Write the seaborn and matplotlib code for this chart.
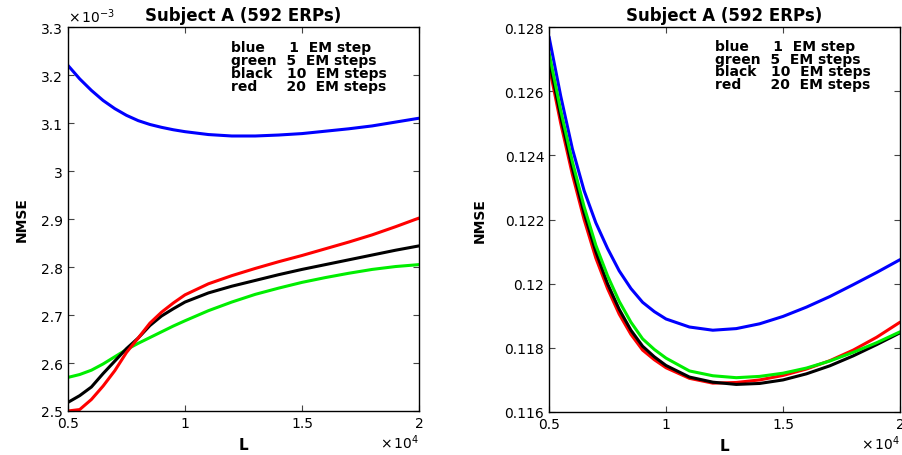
import matplotlib
matplotlib.use("Agg")
import matplotlib.pyplot as plt
import seaborn as sns
import pandas as pd
from matplotlib.ticker import FormatStrFormatter

# L in units of 1e4
L = [0.5, 0.55, 0.6, 0.65, 0.7, 0.75, 0.8, 0.85, 0.9, 0.95, 1.0, 1.1, 1.2, 1.3,
     1.4, 1.5, 1.6, 1.7, 1.8, 1.9, 2.0]

# left panel, NMSE in units of 1e-3
left_blue = [3.220, 3.192, 3.168, 3.147, 3.130, 3.116, 3.105, 3.097, 3.091, 3.086, 3.082,
             3.076, 3.073, 3.073, 3.075, 3.078, 3.083, 3.088, 3.094, 3.102, 3.110]
left_green = [2.570, 2.576, 2.585, 2.598, 2.613, 2.628, 2.641, 2.653, 2.665, 2.677, 2.688,
              2.709, 2.727, 2.743, 2.756, 2.768, 2.778, 2.787, 2.795, 2.801, 2.805]
left_black = [2.518, 2.532, 2.550, 2.578, 2.604, 2.630, 2.652, 2.678, 2.698, 2.713, 2.727,
              2.746, 2.760, 2.772, 2.784, 2.795, 2.805, 2.815, 2.825, 2.835, 2.844]
left_red = [2.500, 2.503, 2.524, 2.552, 2.584, 2.622, 2.652, 2.683, 2.706, 2.725, 2.742,
            2.765, 2.782, 2.797, 2.811, 2.824, 2.838, 2.852, 2.867, 2.884, 2.902]

# right panel
right_blue = [0.1277, 0.12585, 0.1242, 0.1229, 0.1219, 0.1211, 0.1204, 0.11985, 0.11942, 0.11913,
              0.11890, 0.11865, 0.11855, 0.11860, 0.11875, 0.11898, 0.11927, 0.11960, 0.11997,
              0.12035, 0.12075]
right_green = [0.1272, 0.1254, 0.1238, 0.1224, 0.1212, 0.12025, 0.11945, 0.1188, 0.11828, 0.11795,
               0.11768, 0.11728, 0.11713, 0.11707, 0.11711, 0.11721, 0.11737, 0.11759, 0.11786,
               0.11816, 0.11850]
right_black = [0.1270, 0.1252, 0.1236, 0.1222, 0.1210, 0.1200, 0.1192, 0.11855, 0.11805, 0.11772,
               0.11745, 0.11709, 0.11693, 0.11686, 0.11689, 0.11700, 0.11719, 0.11744, 0.11775,
               0.11810, 0.11847]
right_red = [0.1268, 0.1250, 0.1234, 0.1220, 0.1208, 0.11985, 0.11905, 0.11842, 0.11793, 0.11763,
             0.11738, 0.11705, 0.11690, 0.11692, 0.11700, 0.11714, 0.11734, 0.11760, 0.11793,
             0.11833, 0.11880]

legend_lines = ["blue     1  EM step", "green  5  EM steps",
                "black   10  EM steps", "red      20  EM steps"]

colors = {"blue": "#0000ff", "green": "#00ee00", "black": "#000000", "red": "#ff0000"}


def to_long(series):
    rows = []
    for name, vals in series.items():
        for x, y in zip(L, vals):
            rows.append({"L": x, "NMSE": y, "run": name})
    return pd.DataFrame(rows)


sns.set_style("ticks")
plt.rcParams["font.family"] = ["DejaVu Sans"]
plt.rcParams["mathtext.default"] = "regular"
plt.rcParams["text.color"] = "black"
plt.rcParams["axes.labelcolor"] = "black"

fig = plt.figure(figsize=(9.03, 4.56), dpi=100)
ax1 = fig.add_axes([0.0753, 0.0965, 0.3887, 0.842])
ax2 = fig.add_axes([0.608, 0.0943, 0.3887, 0.844])

df_left = to_long({"blue": left_blue, "green": left_green,
                   "black": left_black, "red": left_red})
df_right = to_long({"blue": right_blue, "red": right_red,
                    "black": right_black, "green": right_green})

sns.lineplot(data=df_left, x="L", y="NMSE", hue="run", palette=colors,
             hue_order=["blue", "green", "black", "red"], linewidth=2.2,
             estimator=None, legend=False, ax=ax1)
sns.lineplot(data=df_right, x="L", y="NMSE", hue="run", palette=colors,
             hue_order=["blue", "red", "black", "green"], linewidth=2.2,
             estimator=None, legend=False, ax=ax2)

ax1.set_ylim(2.5, 3.3)
ax1.set_yticks([2.5, 2.6, 2.7, 2.8, 2.9, 3.0, 3.1, 3.2, 3.3])
ax2.set_ylim(0.116, 0.128)
ax2.set_yticks([0.116, 0.118, 0.12, 0.122, 0.124, 0.126, 0.128])

for ax, lx in [(ax1, -0.113), (ax2, -0.177)]:
    ax.set_xlim(0.5, 2.0)
    ax.set_xticks([0.5, 1.0, 1.5, 2.0])
    ax.xaxis.set_major_formatter(FormatStrFormatter("%g"))
    ax.yaxis.set_major_formatter(FormatStrFormatter("%g"))
    ax.tick_params(direction="in", length=4, width=0.8, labelsize=10,
                   top=True, right=True, pad=3.5, colors="#444444", labelcolor="black")
    for sp in ax.spines.values():
        sp.set_visible(True)
        sp.set_linewidth(1.0)
        sp.set_color("black")
    ax.set_title("Subject A (592 ERPs)", fontsize=12, fontweight="bold", pad=5)
    ax.set_xlabel("L", fontsize=11, fontweight="bold", labelpad=5)
    ax.set_ylabel("NMSE", fontsize=10, fontweight="bold")
    ax.yaxis.set_label_coords(lx, 0.5)
    ax.text(1.0, -0.055, r"$\times\,10^{4}$", transform=ax.transAxes,
            ha="right", va="top", fontsize=10)

ax1.text(0.0, 1.005, r"$\times\,10^{-3}$", transform=ax1.transAxes,
         ha="left", va="bottom", fontsize=10)

for ax, x0, y0, dy in [(ax1, 0.464, 0.948, 0.0339), (ax2, 0.473, 0.951, 0.0325)]:
    for i, txt in enumerate(legend_lines):
        ax.text(x0, y0 - i * dy, txt, transform=ax.transAxes, ha="left",
                va="center", fontsize=10, fontweight="bold")

fig.savefig("out.png", dpi=100)
